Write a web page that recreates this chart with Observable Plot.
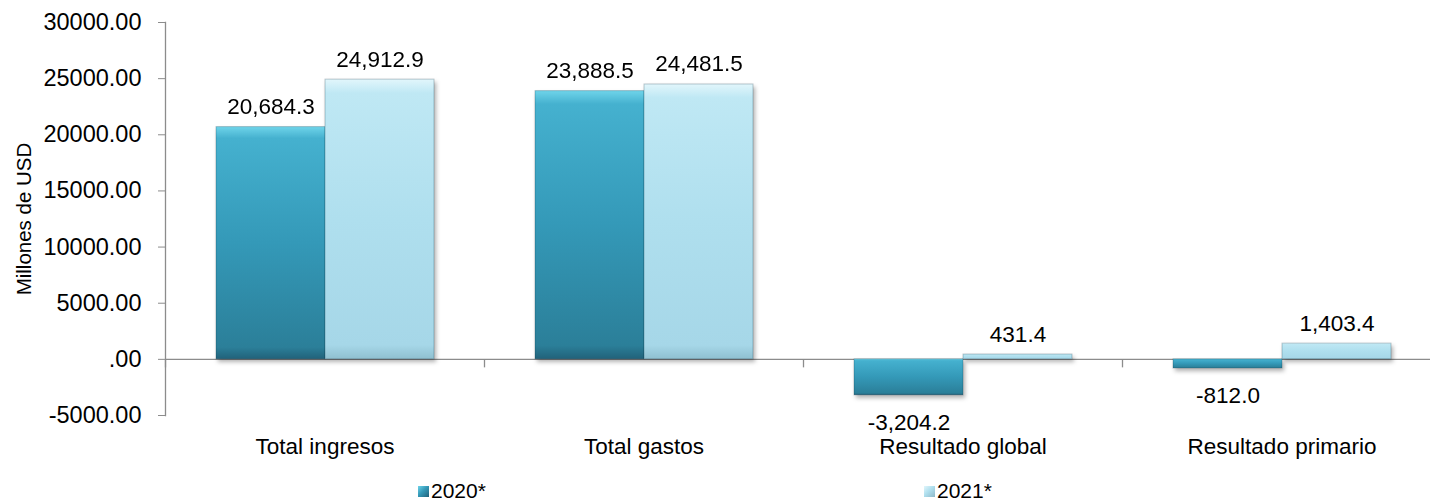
<!DOCTYPE html>
<html>
<head>
<meta charset="utf-8">
<script src="https://cdn.jsdelivr.net/npm/d3@7"></script>
<script src="https://cdn.jsdelivr.net/npm/@observablehq/plot@0.6"></script>
<style>
  html, body { margin: 0; padding: 0; background: #fff; }
  #chart svg { display: block; }
  #legend { display: flex; align-items: center; padding-left: 418px; height: 22px; line-height: 22px; margin-top: 4px;
            font-family: "Liberation Sans", Arial, sans-serif; font-size: 21px; color: #000; }
  #legend .item { display: flex; align-items: center; width: 542px; }
  #legend .sw { display: inline-block; width: 11px; height: 11px; margin-right: 2px; }
</style>
</head>
<body>
<div id="chart"></div>
<div id="legend"></div>
<script>
const categories = ["Total ingresos", "Total gastos", "Resultado global", "Resultado primario"];
const series = ["2020*", "2021*"];
const values2020 = [20684.3, 23888.5, -3204.2, -812.0];
const values2021 = [24912.9, 24481.5, 431.4, 1403.4];
const yTicks = [-5000, 0, 5000, 10000, 15000, 20000, 25000, 30000];
const yLabel = "Millones de USD";

const data = categories.flatMap((c, i) => [
  {category: c, series: series[0], value: values2020[i]},
  {category: c, series: series[1], value: values2021[i]}
]);

const loc = d3.formatLocale({decimal: ".", thousands: ",", grouping: [3], currency: ["$", ""], minus: "-"});
const fmtValue = loc.format(",.1f");
const fmt2 = loc.format(".2f");
const fmtTick = v => v === 0 ? ".00" : fmt2(v);

const tickDown = {draw(ctx) { ctx.moveTo(0, 0); ctx.lineTo(0, 8); }};
const grey = "#8c8c8c";

const chart = Plot.plot({
  width: 1430,
  height: 476,
  marginLeft: 165,
  marginRight: -11,
  marginTop: 22,
  marginBottom: 61,
  style: {fontFamily: "'Liberation Sans', Arial, sans-serif", fontSize: "22.5px", color: "#000", background: "#fff", overflow: "visible"},
  fx: {domain: categories, padding: 0},
  x: {domain: series, paddingInner: 0, paddingOuter: 0.46, axis: null},
  y: {domain: [-5000, 30000]},
  color: {domain: series, range: ["url(#grad2020)", "url(#grad2021)"]},
  marks: [
    Plot.frame({anchor: "left", facet: "super", stroke: grey, strokeWidth: 1.3}),
    Plot.ruleY([0], {stroke: grey, strokeWidth: 1.3}),
    Plot.dot([0], {y: d => d, frameAnchor: "left", symbol: tickDown, fill: "none", stroke: grey, strokeWidth: 1.3}),
    Plot.barY(data, {fx: "category", x: "series", y: "value", fill: "series", stroke: "rgba(0,40,60,0.25)", strokeWidth: 1}),
    Plot.text(data.filter(d => d.value >= 0), {fx: "category", x: "series", y: "value", text: d => fmtValue(d.value), lineAnchor: "bottom", dy: -13, fill: "#000"}),
    Plot.text(data.filter(d => d.value < 0), {fx: "category", x: "series", y: "value", text: d => fmtValue(d.value), lineAnchor: "top", dy: 19, fill: "#000"}),
    Plot.axisY({ticks: yTicks, tickFormat: fmtTick, tickSize: 7, tickPadding: 17, stroke: grey, fill: "#000", fontSize: 23.5,
                label: null}),
    Plot.axisY({ticks: [], tickSize: 0, label: yLabel, labelAnchor: "center", labelArrow: "none", labelOffset: 149, fill: "#000", fontSize: 20.5}),
    Plot.axisFx({anchor: "bottom", tickSize: 0, tickPadding: 23, label: null, fill: "#000"})
  ]
});

const svg = d3.select(chart);
svg.insert("defs", ":first-child").html(`
  <linearGradient id="grad2020" x1="0" y1="0" x2="0" y2="1">
    <stop offset="0" stop-color="#6fd4ea"/>
    <stop offset="0.05" stop-color="#45b1cf"/>
    <stop offset="0.5" stop-color="#3499b8"/>
    <stop offset="0.95" stop-color="#2b7f99"/>
    <stop offset="1" stop-color="#21627a"/>
  </linearGradient>
  <linearGradient id="grad2021" x1="0" y1="0" x2="0" y2="1">
    <stop offset="0" stop-color="#e2f6fb"/>
    <stop offset="0.05" stop-color="#bfe8f4"/>
    <stop offset="0.5" stop-color="#afdfee"/>
    <stop offset="0.95" stop-color="#a6d7e8"/>
    <stop offset="1" stop-color="#8fc0d0"/>
  </linearGradient>`);
svg.selectAll('g[aria-label="bar"]').style("filter", "drop-shadow(2px 3px 2px rgba(0,0,0,0.3))");

document.getElementById("chart").appendChild(chart);

const swatchBg = {
  "2020*": "linear-gradient(135deg, #6fd4ea 0%, #3499b8 45%, #21627a 100%)",
  "2021*": "linear-gradient(135deg, #e2f6fb 0%, #afdfee 45%, #8fb8c8 100%)"
};
const legend = d3.select("#legend");
series.forEach(s => {
  const item = legend.append("div").attr("class", "item");
  item.append("span").attr("class", "sw").style("background", swatchBg[s]);
  item.append("span").text(s);
});
</script>
</body>
</html>
